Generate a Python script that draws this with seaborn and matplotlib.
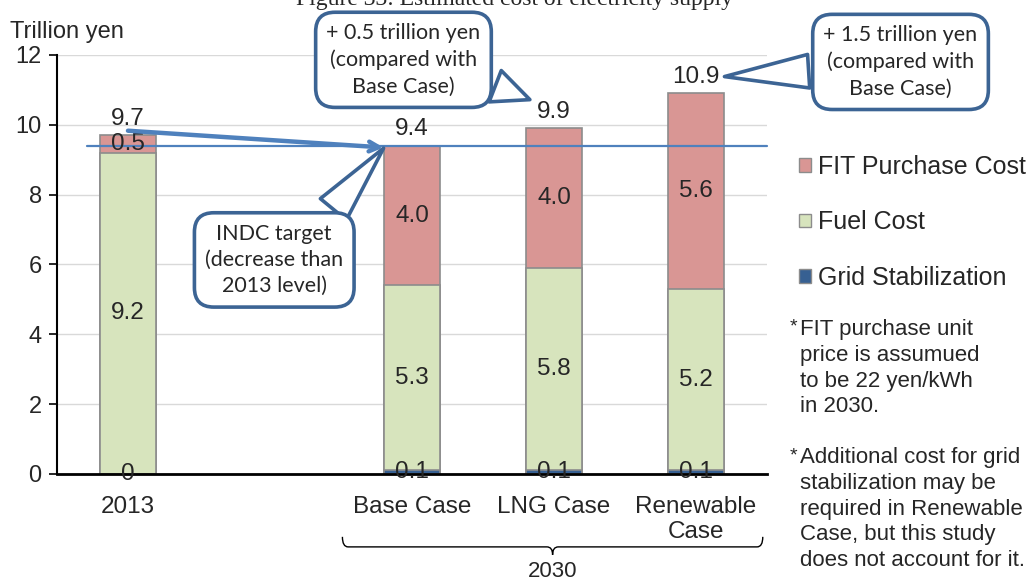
import numpy as np
import pandas as pd
import matplotlib
matplotlib.use('Agg')
import matplotlib.pyplot as plt
import seaborn as sns
from matplotlib.patches import Patch, PathPatch
from matplotlib.path import Path
from matplotlib.transforms import blended_transform_factory

# data
cases = ['2013', 'Base Case', 'LNG Case', 'Renewable Case']
grid_stab = [0.0, 0.1, 0.1, 0.1]
fuel_cost = [9.2, 5.3, 5.8, 5.2]
fit_cost = [0.5, 4.0, 4.0, 5.6]
totals = [9.7, 9.4, 9.9, 10.9]
order = ['2013', '', 'Base Case', 'LNG Case', 'Renewable Case']
tick_labels = ['2013', '', 'Base Case', 'LNG Case', 'Renewable\nCase']

c_fit = '#d99694'
c_fuel = '#d7e4bd'
c_grid = '#376092'
c_call = '#3c6494'
c_line = '#4f81bd'

sns.set_style('white')
plt.rcParams['font.family'] = ['Liberation Sans', 'DejaVu Sans']

df = pd.DataFrame({'case': cases, 'grid': grid_stab, 'fuel': fuel_cost, 'fit': fit_cost})
df['mid'] = df['grid'] + df['fuel']
df['top'] = df['mid'] + df['fit']

fig = plt.figure(figsize=(10.3, 5.82), dpi=100)
ax = fig.add_axes([0.0553, 0.1856, 0.6894, 0.72])

# stacked bars (drawn back to front)
for col, c in [('top', c_fit), ('mid', c_fuel), ('grid', c_grid)]:
    sns.barplot(data=df, x='case', y=col, order=order, color=c, width=0.4,
                edgecolor='#8c8c8c', linewidth=1.2, saturation=1, ax=ax)

ax.set_xlim(-0.5, 4.5)
ax.set_ylim(0, 12)
ax.set_yticks(range(0, 13, 2))
ax.set_xticks(range(len(order)))
ax.set_xticklabels(tick_labels)
ax.set_xlabel('')
ax.set_ylabel('')
ax.yaxis.grid(True, color='#d9d9d9', lw=1)
ax.set_axisbelow(True)
for s in ['top', 'right']:
    ax.spines[s].set_visible(False)
ax.spines['left'].set_color('black')
ax.spines['left'].set_linewidth(1.5)
ax.spines['bottom'].set_color('black')
ax.spines['bottom'].set_linewidth(2)
ax.tick_params(axis='y', left=True, length=6, width=1.2, color='black', labelsize=17, pad=5)
ax.tick_params(axis='x', bottom=False, labelsize=17.5, pad=12)

# value labels
for i, r in df.iterrows():
    x = order.index(r['case'])
    g = '0' if r['grid'] == 0 else f"{r['grid']:.1f}"
    ax.text(x, r['grid'] / 2, g, ha='center', va='center', fontsize=17.5)
    ax.text(x, r['grid'] + r['fuel'] / 2, f"{r['fuel']:.1f}", ha='center', va='center', fontsize=17.5)
    ax.text(x, r['mid'] + r['fit'] / 2, f"{r['fit']:.1f}", ha='center', va='center', fontsize=17.5)
    ax.text(x, r['top'] + 0.15, f"{totals[i]:.1f}", ha='center', va='bottom', fontsize=17.5)

# INDC target line and arrow
target = totals[1]
ax.axhline(target, xmin=0.042, xmax=1.0, color=c_line, lw=1.6, clip_on=False)
ax.annotate('', xy=(1.8, target - 0.05), xytext=(0.0, totals[0] + 0.13),
            arrowprops=dict(arrowstyle='->,head_length=0.7,head_width=0.35',
                            color=c_line, lw=3.2, shrinkA=0, shrinkB=0))

# callouts
def callout(text, xy, xytext, relpos):
    ax.annotate(text, xy=xy, xytext=xytext, ha='center', va='center',
                fontsize=15.5, family='Lato', linespacing=1.4, annotation_clip=False,
                bbox=dict(boxstyle='round,pad=0.5,rounding_size=0.9', fc='white', ec=c_call, lw=2.6),
                arrowprops=dict(arrowstyle='wedge,tail_width=1.1,shrink_factor=0.5', fc='white',
                                ec=c_call, lw=2.6, relpos=relpos, shrinkB=0, mutation_scale=22))

callout('+ 0.5 trillion yen\n(compared with\nBase Case)', (2.83, 10.72), (1.94, 11.86), (0.9, 0.3))
callout('+ 1.5 trillion yen\n(compared with\nBase Case)', (4.2, 11.38), (5.44, 11.8), (0.1, 0.4))
callout('INDC target\n(decrease than\n2013 level)', (1.8, 9.33), (1.03, 6.13), (0.8, 0.9))

# brace under 2030 cases
tr = blended_transform_factory(ax.transData, ax.transAxes)
x0, xm, x1 = 1.51, 2.99, 4.47
yt, ymid, yb = -0.150, -0.174, -0.193
dx = 0.04
verts = [(x0, yt), (x0, ymid), (x0 + dx, ymid), (xm - dx, ymid), (xm, ymid), (xm, yb),
         (xm, ymid), (xm + dx, ymid), (x1 - dx, ymid), (x1, ymid), (x1, yt)]
codes = [Path.MOVETO, Path.CURVE3, Path.CURVE3, Path.LINETO, Path.CURVE3, Path.CURVE3,
         Path.CURVE3, Path.CURVE3, Path.LINETO, Path.CURVE3, Path.CURVE3]
ax.add_patch(PathPatch(Path(verts, codes), transform=tr, fill=False, ec='black', lw=1, clip_on=False))
ax.text(xm, -0.232, '2030', transform=tr, ha='center', va='center', fontsize=16)

# legend
handles = [Patch(fc=c_fit, ec='#8c8c8c', label='FIT Purchase Cost'),
           Patch(fc=c_fuel, ec='#8c8c8c', label='Fuel Cost'),
           Patch(fc=c_grid, ec='#8c8c8c', label='Grid Stabilization')]
fig.legend(handles=handles, loc='upper left', bbox_to_anchor=(0.776, 0.734), frameon=False,
           fontsize=18, handlelength=0.45, handleheight=0.45, handletextpad=0.3, labelspacing=1.26,
           borderaxespad=0, borderpad=0)

# notes and titles
fig.text(0.767, 0.452, '*', fontsize=14, va='top')
fig.text(0.777, 0.452, 'FIT purchase unit\nprice is assumued\nto be 22 yen/kWh\nin 2030.',
         fontsize=16, va='top', linespacing=1.3)
fig.text(0.767, 0.232, '*', fontsize=14, va='top')
fig.text(0.777, 0.232, 'Additional cost for grid\nstabilization may be\nrequired in Renewable\nCase, but this study\ndoes not account for it.',
         fontsize=16, va='top', linespacing=1.3)
fig.text(0.0097, 0.945, 'Trillion yen', fontsize=17, va='center')
fig.text(0.5, 1.0, 'Figure 33: Estimated cost of electricity supply', family='Liberation Serif',
         fontsize=17, ha='center', va='center')

fig.savefig('out.png', dpi=100)
